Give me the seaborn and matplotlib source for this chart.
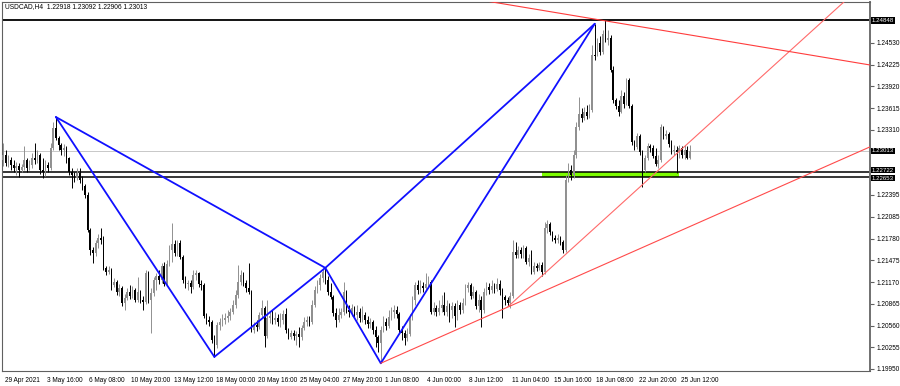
import numpy as np
import pandas as pd
import matplotlib
matplotlib.use("Agg")
import matplotlib.pyplot as plt
import matplotlib.transforms as mtransforms
import seaborn as sns

# ---------------- data (USDCAD H4) ----------------
title_text = "USDCAD,H4  1.22918 1.23092 1.22906 1.23013"
first_open = 1.2289
close = [
    1.2296, 1.2284, 1.2289, 1.2282, 1.2277, 1.2280, 1.2275, 1.2279, 1.2289, 1.2277,
    1.2282, 1.2291, 1.2289, 1.2296, 1.2275, 1.2272, 1.2282, 1.2277, 1.2306, 1.2334,
    1.2320, 1.2310, 1.2303, 1.2306, 1.2291, 1.2272, 1.2268, 1.2263, 1.2270, 1.2261,
    1.2252, 1.2239, 1.2190, 1.2162, 1.2158, 1.2172, 1.2179, 1.2176, 1.2137, 1.2131,
    1.2134, 1.2113, 1.2117, 1.2103, 1.2109, 1.2088, 1.2095, 1.2103, 1.2098, 1.2106,
    1.2092, 1.2103, 1.2092, 1.2089, 1.2130, 1.2092, 1.2102, 1.2120, 1.2126, 1.2120,
    1.2140, 1.2114, 1.2142, 1.2162, 1.2170, 1.2158, 1.2172, 1.2152, 1.2120, 1.2114,
    1.2116, 1.2110, 1.2127, 1.2130, 1.2114, 1.2113, 1.2069, 1.2064, 1.2061, 1.2036,
    1.2029, 1.2057, 1.2061, 1.2064, 1.2067, 1.2069, 1.2075, 1.2085, 1.2099, 1.2117,
    1.2127, 1.2116, 1.2109, 1.2103, 1.2050, 1.2057, 1.2054, 1.2071, 1.2081, 1.2041,
    1.2067, 1.2069, 1.2064, 1.2067, 1.2061, 1.2064, 1.2072, 1.2050, 1.2040, 1.2046,
    1.2041, 1.2044, 1.2040, 1.2053, 1.2061, 1.2064, 1.2061, 1.2085, 1.2106, 1.2113,
    1.2123, 1.2131, 1.2120, 1.2103, 1.2096, 1.2074, 1.2064, 1.2071, 1.2075, 1.2103,
    1.2078, 1.2075, 1.2081, 1.2071, 1.2075, 1.2067, 1.2071, 1.2064, 1.2058, 1.2061,
    1.2050, 1.2040, 1.2032, 1.2050, 1.2061, 1.2055, 1.2068, 1.2075, 1.2078, 1.2072,
    1.2050, 1.2046, 1.2039, 1.2044, 1.2067, 1.2092, 1.2113, 1.2106, 1.2112, 1.2109,
    1.2114, 1.2117, 1.2075, 1.2081, 1.2075, 1.2081, 1.2085, 1.2075, 1.2083, 1.2078,
    1.2083, 1.2069, 1.2085, 1.2078, 1.2088, 1.2109, 1.2113, 1.2098, 1.2103, 1.2083,
    1.2092, 1.2078, 1.2103, 1.2110, 1.2106, 1.2112, 1.2107, 1.2114, 1.2106, 1.2096,
    1.2092, 1.2088, 1.2098, 1.2159, 1.2155, 1.2162, 1.2156, 1.2165, 1.2145, 1.2151,
    1.2131, 1.2140, 1.2137, 1.2141, 1.2131, 1.2193, 1.2199, 1.2188, 1.2179, 1.2176,
    1.2179, 1.2173, 1.2162, 1.2261, 1.2275, 1.2268, 1.2296, 1.2335, 1.2353, 1.2348,
    1.2356, 1.2351, 1.2359, 1.2436, 1.2435, 1.2453, 1.2440, 1.2466, 1.2457, 1.2460,
    1.2415, 1.2373, 1.2365, 1.2356, 1.2378, 1.2367, 1.2401, 1.2365, 1.2314, 1.2307,
    1.2323, 1.2300, 1.2275, 1.2291, 1.2308, 1.2306, 1.2294, 1.2283, 1.2289, 1.2335,
    1.2323, 1.2325, 1.2311, 1.2301, 1.2303, 1.2300, 1.2306, 1.2296, 1.2303, 1.2292,
    1.23013,
]
high = [
    1.2313, 1.2303, 1.2296, 1.2293, 1.2289, 1.2286, 1.2284, 1.2283, 1.2308, 1.2291,
    1.2289, 1.2298, 1.2313, 1.2303, 1.2298, 1.2291, 1.2289, 1.2286, 1.2313, 1.2342,
    1.2349, 1.2323, 1.2313, 1.2311, 1.2308, 1.2293, 1.2277, 1.2272, 1.2277, 1.2277,
    1.2266, 1.2255, 1.2244, 1.2193, 1.2166, 1.2176, 1.2185, 1.2193, 1.2182, 1.2140,
    1.2140, 1.2137, 1.2123, 1.2120, 1.2114, 1.2112, 1.2100, 1.2109, 1.2113, 1.2112,
    1.2109, 1.2124, 1.2106, 1.2098, 1.2134, 1.2133, 1.2109, 1.2124, 1.2130, 1.2134,
    1.2144, 1.2145, 1.2148, 1.2169, 1.2200, 1.2176, 1.2176, 1.2176, 1.2155, 1.2126,
    1.2120, 1.2120, 1.2134, 1.2134, 1.2131, 1.2120, 1.2116, 1.2074, 1.2069, 1.2064,
    1.2043, 1.2061, 1.2067, 1.2072, 1.2074, 1.2078, 1.2081, 1.2092, 1.2106, 1.2141,
    1.2134, 1.2131, 1.2120, 1.2144, 1.2106, 1.2061, 1.2064, 1.2075, 1.2092, 1.2083,
    1.2092, 1.2075, 1.2078, 1.2075, 1.2072, 1.2074, 1.2078, 1.2081, 1.2053, 1.2050,
    1.2050, 1.2048, 1.2054, 1.2057, 1.2068, 1.2069, 1.2069, 1.2092, 1.2112, 1.2120,
    1.2128, 1.2137, 1.2137, 1.2126, 1.2116, 1.2099, 1.2081, 1.2081, 1.2081, 1.2117,
    1.2106, 1.2085, 1.2086, 1.2083, 1.2085, 1.2081, 1.2083, 1.2075, 1.2069, 1.2067,
    1.2064, 1.2055, 1.2043, 1.2055, 1.2069, 1.2067, 1.2078, 1.2082, 1.2085, 1.2083,
    1.2075, 1.2055, 1.2050, 1.2053, 1.2072, 1.2098, 1.2117, 1.2120, 1.2120, 1.2117,
    1.2130, 1.2126, 1.2120, 1.2089, 1.2085, 1.2092, 1.2099, 1.2103, 1.2092, 1.2088,
    1.2089, 1.2088, 1.2092, 1.2089, 1.2095, 1.2114, 1.2117, 1.2116, 1.2112, 1.2106,
    1.2100, 1.2098, 1.2109, 1.2117, 1.2116, 1.2120, 1.2116, 1.2123, 1.2120, 1.2109,
    1.2099, 1.2096, 1.2103, 1.2176, 1.2173, 1.2168, 1.2166, 1.2169, 1.2168, 1.2156,
    1.2162, 1.2145, 1.2144, 1.2145, 1.2145, 1.2201, 1.2204, 1.2201, 1.2189, 1.2183,
    1.2185, 1.2182, 1.2176, 1.2268, 1.2284, 1.2282, 1.2303, 1.2342, 1.2377, 1.2362,
    1.2363, 1.2366, 1.2367, 1.2450, 1.2480, 1.2460, 1.2463, 1.2471, 1.24848, 1.2471,
    1.2464, 1.2421, 1.2376, 1.2373, 1.2387, 1.2384, 1.2404, 1.2404, 1.2367, 1.2317,
    1.2327, 1.2325, 1.2303, 1.2296, 1.2313, 1.2311, 1.2310, 1.2306, 1.2296, 1.2339,
    1.2336, 1.2331, 1.2328, 1.2317, 1.2310, 1.2308, 1.2310, 1.2308, 1.2310, 1.2308,
    1.23092,
]
low = [
    1.2280, 1.2280, 1.2279, 1.2275, 1.2272, 1.2268, 1.2265, 1.2272, 1.2275, 1.2272,
    1.2275, 1.2277, 1.2283, 1.2284, 1.2269, 1.2263, 1.2266, 1.2272, 1.2275, 1.2303,
    1.2317, 1.2303, 1.2296, 1.2294, 1.2284, 1.2268, 1.2249, 1.2258, 1.2261, 1.2256,
    1.2246, 1.2235, 1.2188, 1.2155, 1.2144, 1.2154, 1.2165, 1.2170, 1.2134, 1.2127,
    1.2128, 1.2106, 1.2110, 1.2099, 1.2098, 1.2083, 1.2078, 1.2092, 1.2093, 1.2095,
    1.2089, 1.2089, 1.2088, 1.2078, 1.2086, 1.2088, 1.2046, 1.2098, 1.2106, 1.2114,
    1.2116, 1.2112, 1.2112, 1.2140, 1.2145, 1.2154, 1.2154, 1.2149, 1.2116, 1.2109,
    1.2106, 1.2102, 1.2107, 1.2120, 1.2110, 1.2106, 1.2067, 1.2058, 1.2055, 1.2032,
    1.2012, 1.2025, 1.2050, 1.2055, 1.2058, 1.2061, 1.2064, 1.2072, 1.2081, 1.2095,
    1.2113, 1.2112, 1.2103, 1.2100, 1.2047, 1.2046, 1.2048, 1.2051, 1.2067, 1.2026,
    1.2039, 1.2060, 1.2058, 1.2058, 1.2055, 1.2054, 1.2058, 1.2046, 1.2037, 1.2037,
    1.2036, 1.2029, 1.2026, 1.2036, 1.2050, 1.2055, 1.2055, 1.2058, 1.2082, 1.2102,
    1.2106, 1.2117, 1.2114, 1.2099, 1.2093, 1.2069, 1.2054, 1.2061, 1.2067, 1.2071,
    1.2074, 1.2068, 1.2069, 1.2067, 1.2064, 1.2061, 1.2061, 1.2058, 1.2053, 1.2053,
    1.2044, 1.2026, 1.2019, 1.2003, 1.2047, 1.2050, 1.2053, 1.2064, 1.2067, 1.2067,
    1.2046, 1.2036, 1.2029, 1.2034, 1.2041, 1.2064, 1.2085, 1.2100, 1.2102, 1.2103,
    1.2106, 1.2109, 1.2072, 1.2071, 1.2069, 1.2071, 1.2075, 1.2071, 1.2069, 1.2061,
    1.2067, 1.2054, 1.2064, 1.2072, 1.2074, 1.2085, 1.2103, 1.2093, 1.2095, 1.2079,
    1.2075, 1.2054, 1.2074, 1.2099, 1.2100, 1.2102, 1.2102, 1.2104, 1.2099, 1.2067,
    1.2085, 1.2083, 1.2081, 1.2095, 1.2151, 1.2151, 1.2151, 1.2151, 1.2142, 1.2140,
    1.2128, 1.2128, 1.2133, 1.2134, 1.2126, 1.2128, 1.2186, 1.2183, 1.2175, 1.2172,
    1.2172, 1.2169, 1.2158, 1.2159, 1.2258, 1.2261, 1.2263, 1.2291, 1.2331, 1.2342,
    1.2345, 1.2346, 1.2348, 1.2356, 1.2429, 1.2435, 1.2436, 1.2437, 1.2454, 1.2450,
    1.2412, 1.2369, 1.2360, 1.2351, 1.2355, 1.2362, 1.2366, 1.2362, 1.2310, 1.2303,
    1.2304, 1.2296, 1.2251, 1.2272, 1.2289, 1.2300, 1.2291, 1.2280, 1.2277, 1.2286,
    1.2318, 1.2318, 1.2307, 1.2297, 1.2296, 1.2270, 1.2291, 1.2291, 1.2290, 1.2290,
    1.22906,
]

xtick_bars = [0, 16, 32, 48, 64, 80, 96, 112, 128, 144, 160, 176, 192, 208, 224, 240, 256]
xtick_labels = ["29 Apr 2021", "3 May 16:00", "6 May 08:00", "10 May 20:00", "13 May 12:00",
                "18 May 00:00", "20 May 16:00", "25 May 04:00", "27 May 20:00", "1 Jun 08:00",
                "4 Jun 00:00", "8 Jun 12:00", "11 Jun 04:00", "15 Jun 16:00", "18 Jun 08:00",
                "22 Jun 20:00", "25 Jun 12:00"]
ytick_values = [1.19950, 1.20255, 1.20560, 1.20865, 1.21170, 1.21475, 1.21780, 1.22085,
                1.22395, 1.23310, 1.23615, 1.23920, 1.24225, 1.24530]

level_prices = [1.24848, 1.22722, 1.22653]
bid_price = 1.23013

# harmonic pattern points X, A, B, C, D
pattern_names = ["X", "A", "B", "C", "D"]
pattern_bars = [20, 80, 122, 143, 224]
pattern_prices = [1.2349, 1.2012, 1.2137, 1.2003, 1.2480]
pattern_legs = [("X", "A"), ("A", "B"), ("B", "C"), ("C", "D"), ("X", "B"), ("B", "D")]

# red trend lines (anchor bars / prices)
trend_names = ["lower", "steep", "upper"]
trend_bars = [(143, 330), (191, 330), (170, 330)]
trend_prices = [(1.2003, 1.2310), (1.2082, 1.2550), (1.2520, 1.2421)]

zone_bars = (204, 256)
zone_prices = (1.22653, 1.22722)

# ---------------- drawing ----------------
sns.set_style("white")
plt.rcParams["font.family"] = ["Liberation Sans", "DejaVu Sans"]

W, H = 900, 386
fig = plt.figure(figsize=(W / 100, H / 100), dpi=100)
ax = fig.add_axes([2 / W, 1 - 371 / H, 868 / W, 369 / H])
ax.set_facecolor("white")

n = len(close)
bars = np.arange(n)
opens = np.array([first_open] + close[:-1])
closes = np.array(close)
highs = np.array(high)
lows = np.array(low)
bull = closes >= opens

# zone and horizontal levels (behind candles)
ax.fill_between(zone_bars, zone_prices[0], zone_prices[1], color="#7CFC00", lw=0, zorder=1)
ax.axhline(bid_price, color="#c8c8c8", lw=0.7, zorder=1)
for i, p in enumerate(level_prices):
    ax.axhline(p, color="black", lw=1.3 if i == 0 else 1.1, zorder=2)

# candles
for flag, col in [(True, "#909090"), (False, "black")]:
    m = bull == flag
    ax.vlines(bars[m], lows[m], highs[m], color=col, lw=0.7, zorder=3)
    bottoms = np.minimum(opens[m], closes[m])
    heights = np.maximum(np.abs(closes[m] - opens[m]), 0.00004)
    ax.bar(bars[m], heights, bottom=bottoms, width=0.6, color=col, lw=0, zorder=4)

# pattern lines (seaborn)
pt = dict(zip(pattern_names, zip(pattern_bars, pattern_prices)))
rows = []
for k, (a, b) in enumerate(pattern_legs):
    rows.append({"leg": k, "bar": pt[a][0], "price": pt[a][1]})
    rows.append({"leg": k, "bar": pt[b][0], "price": pt[b][1]})
legs_df = pd.DataFrame(rows)
sns.lineplot(data=legs_df, x="bar", y="price", units="leg", estimator=None, sort=False,
             color="#1010ff", lw=1.3, ax=ax, zorder=5)

rows = []
for name, bb, pp in zip(trend_names, trend_bars, trend_prices):
    rows.append({"line": name, "bar": bb[0], "price": pp[0]})
    rows.append({"line": name, "bar": bb[1], "price": pp[1]})
tr_df = pd.DataFrame(rows)
sns.lineplot(data=tr_df, x="bar", y="price", hue="line", units="line", estimator=None,
             sort=False, palette={"lower": "#ff4a4a", "steep": "#ff6a6a", "upper": "#ff3c3c"},
             lw=0.8, ax=ax, zorder=5, legend=False)

ax.set_xlim(-0.4, 328.2)
ax.set_ylim(1.19921, 1.25106)
ax.set_xlabel("")
ax.set_ylabel("")

# axes styling
for s in ["left", "top", "bottom"]:
    ax.spines[s].set_color("#606060")
    ax.spines[s].set_linewidth(0.8)
ax.spines["right"].set_color("#707070")
ax.spines["right"].set_linewidth(1.4)

ax.yaxis.tick_right()
ax.set_yticks(ytick_values)
ax.set_yticklabels([f"{v:.5f}" for v in ytick_values])
ax.tick_params(axis="y", direction="out", length=3, width=0.8, color="#606060",
               labelsize=4.7, pad=1.5, labelcolor="black")
ax.set_xticks(xtick_bars)
ax.set_xticklabels(xtick_labels, ha="left")
ax.tick_params(axis="x", direction="out", length=3, width=0.8, color="#606060",
               labelsize=4.7, pad=1.5, labelcolor="black")
offset = mtransforms.ScaledTranslation(1.5 / 100, 0, fig.dpi_scale_trans)
for lab in ax.get_xticklabels():
    lab.set_transform(lab.get_transform() + offset)
ax.grid(False)

# price boxes on the right axis (the two close levels are nudged apart)
trans = mtransforms.blended_transform_factory(ax.transAxes, ax.transData)
box_labels = [(level_prices[0], 0.0), (bid_price, 0.0),
              (level_prices[1], 1.6), (level_prices[2], -1.6)]
for p, dy_px in box_labels:
    t = trans + mtransforms.ScaledTranslation(0, dy_px / 100, fig.dpi_scale_trans)
    ax.text(1.0 + 2 / 868, p, f"{p:.5f}", transform=t, ha="left", va="center",
            fontsize=4.4, color="white", zorder=10, clip_on=False,
            bbox=dict(boxstyle="square,pad=0.12", fc="black", ec="black", lw=0))

fig.text(5 / W, 1 - 7 / H, title_text, fontsize=4.8, va="center", ha="left", color="black")

fig.savefig("out.png", dpi=100, facecolor="white")
